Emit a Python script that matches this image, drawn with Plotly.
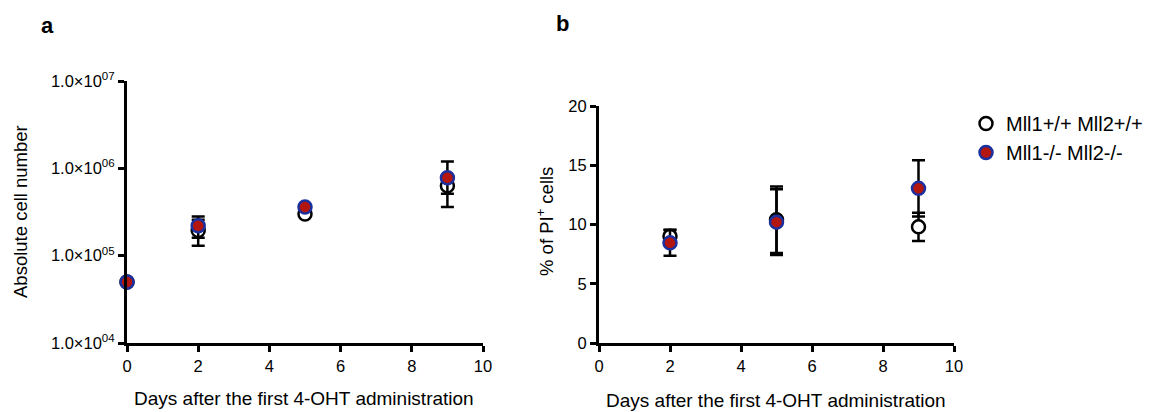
import plotly.graph_objects as go

# ---------------- data ----------------
days_a = [0, 2, 5, 9]
wt_cells = [5.0e4, 1.94e5, 3.0e5, 6.3e5]
wt_cells_err = [0, 6.4e4, 1.5e4, 1.2e5]
ko_cells = [5.0e4, 2.2e5, 3.6e5, 7.8e5]
ko_cells_err = [0, 6.0e4, 2.0e4, 4.2e5]

days_b = [2, 5, 9]
wt_pi = [9.0, 10.4, 9.8]
wt_pi_err = [0.55, 2.8, 1.2]
ko_pi = [8.45, 10.2, 13.05]
ko_pi_err = [1.08, 2.77, 2.37]

series_names = ["Mll1+/+ Mll2+/+", "Mll1-/- Mll2-/-"]
log_tickvals = [1e4, 1e5, 1e6, 1e7]
log_ticktext = ["1.0×10<sup>04</sup>", "1.0×10<sup>05</sup>",
                "1.0×10<sup>06</sup>", "1.0×10<sup>07</sup>"]
x_ticks = [0, 2, 4, 6, 8, 10]
pi_ticks = [0, 5, 10, 15, 20]

# ---------------- style ----------------
W, H = 1151, 412
FONT = "Arial, Liberation Sans, sans-serif"
RED = "#b3160e"
BLUE = "#1c2f9e"


def px_x(p):
    return p / W


def px_y(p):
    return 1 - p / H


wt_marker = dict(symbol="circle", size=13, color="white",
                 line=dict(color="black", width=2.5))
ko_marker = dict(symbol="circle", size=13, color=RED,
                 line=dict(color=BLUE, width=2.5))
err_style = dict(type="data", symmetric=True, color="black",
                 thickness=2.5, width=6.5, visible=True)

fig = go.Figure()

# panel a
fig.add_trace(go.Scatter(x=days_a, y=wt_cells, mode="markers", marker=wt_marker,
                         error_y=dict(array=wt_cells_err, **err_style),
                         name=series_names[0], legendgroup="wt", showlegend=True,
                         xaxis="x", yaxis="y", cliponaxis=False))
fig.add_trace(go.Scatter(x=days_a, y=ko_cells, mode="markers", marker=ko_marker,
                         error_y=dict(array=ko_cells_err, **err_style),
                         name=series_names[1], legendgroup="ko", showlegend=True,
                         xaxis="x", yaxis="y", cliponaxis=False))
# panel b
fig.add_trace(go.Scatter(x=days_b, y=wt_pi, mode="markers", marker=wt_marker,
                         error_y=dict(array=wt_pi_err, **err_style),
                         name=series_names[0], legendgroup="wt", showlegend=False,
                         xaxis="x2", yaxis="y2", cliponaxis=False))
fig.add_trace(go.Scatter(x=days_b, y=ko_pi, mode="markers", marker=ko_marker,
                         error_y=dict(array=ko_pi_err, **err_style),
                         name=series_names[1], legendgroup="ko", showlegend=False,
                         xaxis="x2", yaxis="y2", cliponaxis=False))

axis_common = dict(showgrid=False, zeroline=False, showline=True,
                   linecolor="black", linewidth=3, ticks="outside",
                   ticklen=6, tickwidth=3, tickcolor="black",
                   tickfont=dict(family=FONT, size=16.5, color="black"),
                   fixedrange=True)

fig.update_layout(
    width=W, height=H,
    margin=dict(l=0, r=0, t=0, b=0, autoexpand=False),
    paper_bgcolor="white", plot_bgcolor="white",
    font=dict(family=FONT, color="black"),
    xaxis=dict(domain=[px_x(127), px_x(483)], range=[0, 10],
               tickvals=x_ticks, anchor="y", **axis_common),
    yaxis=dict(domain=[px_y(343), px_y(81)], type="log", range=[4, 7],
               tickvals=log_tickvals, ticktext=log_ticktext,
               anchor="x", **axis_common),
    xaxis2=dict(domain=[px_x(599), px_x(954)], range=[0, 10],
                tickvals=x_ticks, anchor="y2", **axis_common),
    yaxis2=dict(domain=[px_y(343), px_y(106)], range=[0, 20],
                tickvals=pi_ticks, anchor="x2", **axis_common),
    legend=dict(x=px_x(966), y=px_y(104), xanchor="left", yanchor="top",
                font=dict(family=FONT, size=20, color="black"),
                bgcolor="rgba(0,0,0,0)", traceorder="normal",
                tracegroupgap=2, itemwidth=30),
    showlegend=True,
)

ann = [
    dict(text="<b>a</b>", x=px_x(47), y=px_y(26), font=dict(size=22)),
    dict(text="<b>b</b>", x=px_x(562), y=px_y(24), font=dict(size=22)),
    dict(text="Absolute cell number", x=px_x(20), y=px_y(212),
         textangle=-90, font=dict(size=18.5)),
    dict(text="% of PI<sup>+</sup> cells", x=px_x(545), y=px_y(222),
         textangle=-90, font=dict(size=18.5)),
    dict(text="Days after the first 4-OHT administration", x=px_x(304),
         y=px_y(398), font=dict(size=19)),
    dict(text="Days after the first 4-OHT administration", x=px_x(776),
         y=px_y(400), font=dict(size=19)),
]
for a in ann:
    a.update(xref="paper", yref="paper", showarrow=False,
             xanchor="center", yanchor="middle")
    a["font"].update(family=FONT, color="black")
fig.update_layout(annotations=ann)

fig.write_html(
    "out.html",
    config={"displayModeBar": False},
    post_script="document.body.style.margin='0';"
                "document.body.style.overflow='hidden';",
)
